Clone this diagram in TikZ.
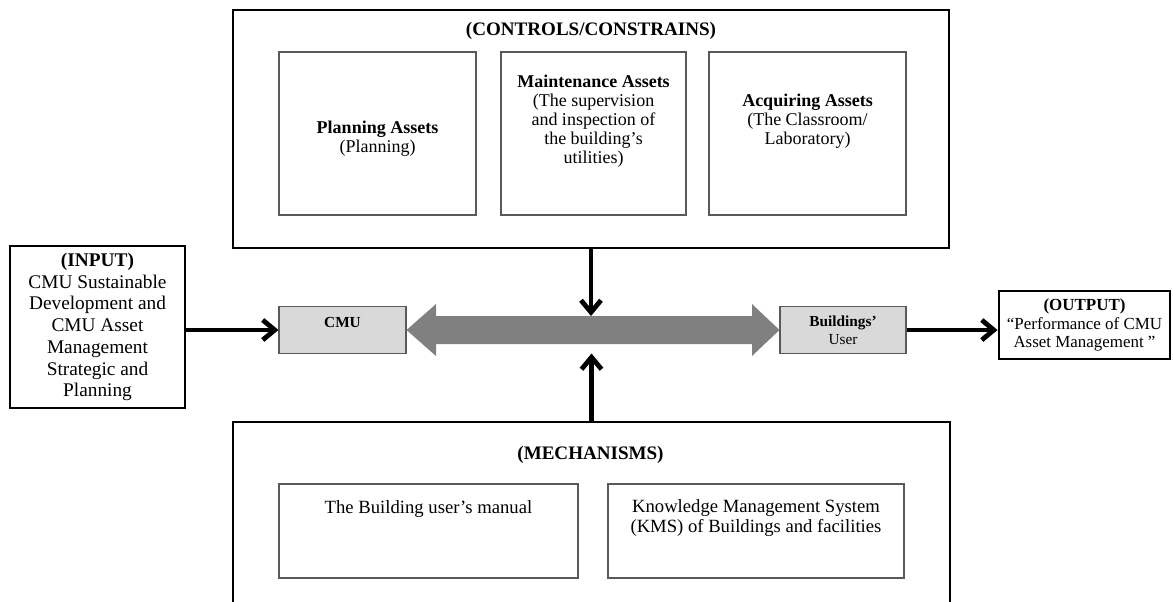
\documentclass[tikz,border=0pt]{standalone}
\usepackage{fontspec}
\setmainfont{Liberation Serif}
\usetikzlibrary{arrows.meta}

\begin{document}
\begin{tikzpicture}[x=0.75pt,y=-0.75pt,
  outer/.style={draw=black,line width=2.2pt,inner sep=0pt},
  innerbox/.style={draw=black!65,line width=0.8pt,inner sep=0pt},
  actor/.style={draw=black!65,fill=black!15,line width=0.8pt,inner sep=0pt},
  flow/.style={line width=3.6pt,-{Straight Barb[length=9pt,width=15pt]}},
  txt/.style={align=center,inner sep=0pt,font=\fontsize{13.5}{14.3}\selectfont},
  headtxt/.style={inner sep=0pt,font=\fontsize{14.3}{16}\selectfont\bfseries}]
\useasboundingbox (0,0) rectangle (1173,601);
\clip (0,0) rectangle (1173,601);
\node [outer,minimum width=537pt,minimum height=178.5pt] (ctrl) at (591,129) {};
\node [headtxt] (ctrltitle) at (591,31) {(CONTROLS/CONSTRAINS)};
\node [innerbox,minimum width=147.75pt,minimum height=122.25pt] (plan) at (377.5,133.5) {};
\node [innerbox,minimum width=138.75pt,minimum height=122.25pt] (maint) at (593.5,133.5) {};
\node [innerbox,minimum width=147.75pt,minimum height=122.25pt] (acq) at (807.5,133.5) {};
\node [txt] (plantext) at (377.5,139) {\textbf{Planning Assets}\\(Planning)};
\node [txt] (mainttext) at (593.5,121) {\textbf{Maintenance Assets}\\(The supervision\\and inspection of\\the building's\\utilities)};
\node [txt] (acqtext) at (807.5,121) {\textbf{Acquiring Assets}\\(The Classroom/\\Laboratory)};
\node [outer,minimum width=537.75pt,minimum height=163.5pt] (mech) at (591.5,531) {};
\node [headtxt] (mechtitle) at (590.5,455) {(MECHANISMS)};
\node [innerbox,minimum width=224.25pt,minimum height=70.5pt] (manual) at (428.5,531) {};
\node [innerbox,minimum width=222pt,minimum height=70.5pt] (kms) at (756,531) {};
\node [txt,font=\fontsize{14}{15}\selectfont] (manualtext) at (428.5,509) {The Building user's manual};
\node [txt,font=\fontsize{14}{15}\selectfont] (kmstext) at (756,518) {Knowledge Management System\\(KMS) of Buildings and facilities};
\node [outer,minimum width=131.25pt,minimum height=121.5pt,align=center,font=\fontsize{14.5}{16.3}\selectfont] (input) at (97.5,327) {\textbf{(INPUT)}\\CMU Sustainable\\Development and\\CMU Asset\\Management\\Strategic and\\Planning};
\node [outer,minimum width=128.25pt,minimum height=51pt,align=center,font=\fontsize{12.7}{13.7}\selectfont] (output) at (1084.5,325) {\textbf{(OUTPUT)}\\``Performance of CMU\\Asset Management ''};
\node [actor,minimum width=95.25pt,minimum height=35.25pt] (cmu) at (342.5,330) {};
\node [txt,font=\fontsize{11.5}{13.5}\selectfont\bfseries] (cmutext) at (342.5,322) {CMU};
\node [actor,minimum width=94.5pt,minimum height=35.25pt,align=center,font=\fontsize{11.5}{13.5}\selectfont] (user) at (843,330) {\textbf{Buildings'}\\User};
\fill [black!50] (cmu.east) -- (436,304) -- (436,316) -- (752,316) -- (752,304) -- (user.west) -- (752,356) -- (752,344) -- (436,344) -- (436,356) -- cycle;
\coordinate (linktop) at (591,316);
\coordinate (linkbot) at (591.5,353.5);
\draw [flow] (input.east |- cmu.west) -- (cmu.west);
\draw [flow] (user.east) -- (output.west |- user.east);
\draw [flow] (ctrl.south) -- (linktop);
\draw [flow] (mech.north) -- (linkbot);
\end{tikzpicture}
\end{document}
